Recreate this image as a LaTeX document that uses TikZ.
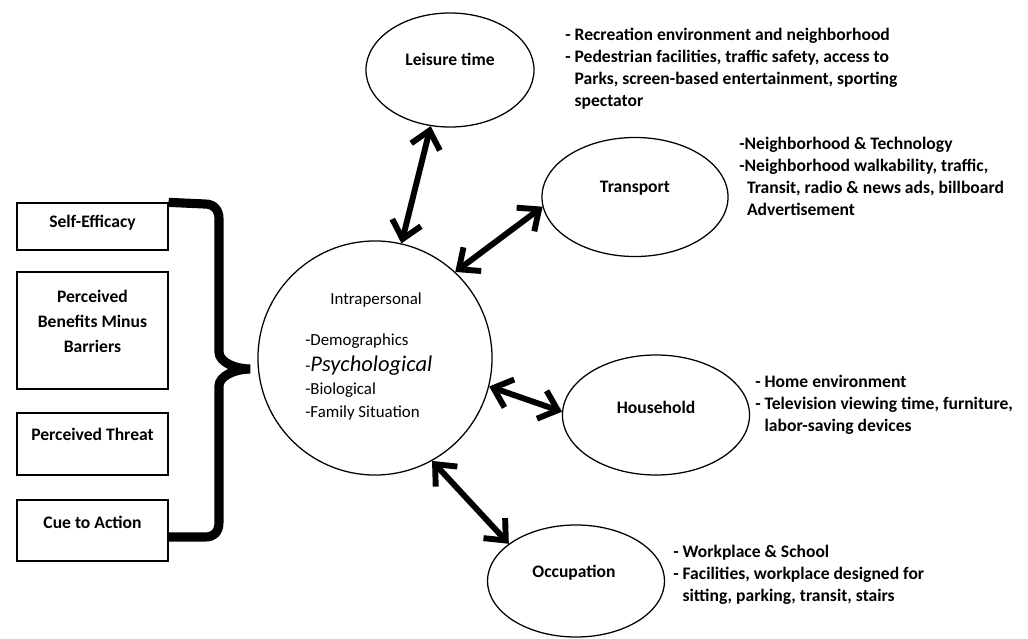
\documentclass[tikz,border=0pt]{standalone}
\usepackage{fontspec}
\setmainfont{Carlito}
\usetikzlibrary{shapes.geometric,arrows.meta,calc}

\begin{document}
\begin{tikzpicture}[x=0.025cm, y=-0.025cm,
	box/.style={draw, line width=0.9pt, minimum width=3.775cm, inner sep=0pt},
	oval/.style={draw, ellipse, line width=0.9pt, inner sep=0pt},
	lbl/.style={font=\fontsize{12.5}{17.5}\selectfont\bfseries, inner sep=0pt},
	note/.style={font=\fontsize{12.5}{15.5}\selectfont\bfseries, align=left, anchor=north west, inner sep=0pt},
	intra/.style={font=\fontsize{12}{14}\selectfont, inner sep=0pt, anchor=base west},
	dbl/.style={{Straight Barb[length=12pt,width=21pt]}-{Straight Barb[length=12pt,width=21pt]}, line width=4.2pt},
	brace/.style={line width=6.5pt}]

\useasboundingbox (0,0) rectangle (1028,639);

% left boxes
\node[box, minimum height=1.175cm] (se) at (92.5,226.5) {};
\node[box, minimum height=2.925cm] (pb) at (92.5,330.5) {};
\node[box, minimum height=1.55cm] (pt) at (92.5,444) {};
\node[box, minimum height=1.525cm] (cue) at (92.5,530.5) {};

\node[lbl, anchor=base] (setxt) at (92.5,227) {Self-Efficacy};
\node[lbl, anchor=base, align=center] (pbtxt) at (92.5,352) {Perceived\\Benefits Minus\\Barriers};
\node[lbl, anchor=base] (pttxt) at (92.5,440) {Perceived Threat};
\node[lbl, anchor=base] (cuetxt) at (92.5,528) {Cue to Action};

% the bracket
\draw[brace] (se.north east) -- (205,204)
	.. controls (214,204) and (219,210) .. (219,219) -- (219,352)
	.. controls (219,362) and (235,369) .. (250,369)
	.. controls (235,369) and (219,376) .. (219,386) -- (219,522)
	.. controls (219,532) and (214,537) .. (205,537) -- (cue.east |- 0,537);

% intrapersonal circle
\node[draw, circle, line width=0.9pt, minimum size=5.85cm, inner sep=0pt] (ip) at (375,358) {};
\node[intra, anchor=base] (iptxt) at (376,304) {Intrapersonal};
\node[intra] (dem) at (305,345) {-Demographics};
\node[intra] (psy) at (305,371) {-{\fontsize{16}{18}\selectfont\itshape Psychological}};
\node[intra] (bio) at (305,394) {-Biological};
\node[intra] (fam) at (305,417) {-Family Situation};

% settings
\node[oval, minimum width=4.2cm, minimum height=2.85cm] (lt) at (450,70) {};
\node[oval, minimum width=4.65cm, minimum height=2.975cm] (tr) at (635,197) {};
\node[oval, minimum width=4.675cm, minimum height=3cm] (hh) at (656,415) {};
\node[oval, minimum width=4.425cm, minimum height=2.8cm] (oc) at (576,581) {};

\node[lbl] (lttxt) at (450,59) {Leisure time};
\node[lbl] (trtxt) at (635,188) {Transport};
\node[lbl] (hhtxt) at (656,407) {Household};
\node[lbl] (octxt) at (574,573) {Occupation};

% arrows
\draw[dbl] (lt.251) -- (ip.77);
\draw[dbl] (tr.186) -- (ip.47);
\draw[dbl] (hh.178) -- (ip.346);
\draw[dbl] (oc.151) -- (ip.299);

% notes
\node[note] (ltnote) at (565,28) {- Recreation environment and neighborhood\\- Pedestrian facilities, traffic safety, access to\\\hphantom{- }Parks, screen-based entertainment, sporting\\\hphantom{- }spectator};
\node[note] (trnote) at (739,137) {-Neighborhood \& Technology\\-Neighborhood walkability, traffic,\\\hspace{5.5pt}Transit, radio \& news ads, billboard\\\hspace{5.5pt}Advertisement};
\node[note] (hhnote) at (755,375) {- Home environment\\- Television viewing time, furniture,\\\hphantom{- }labor-saving devices};
\node[note] (ocnote) at (673,545) {- Workplace \& School\\- Facilities, workplace designed for\\\hphantom{- }sitting, parking, transit, stairs};

\end{tikzpicture}
\end{document}
